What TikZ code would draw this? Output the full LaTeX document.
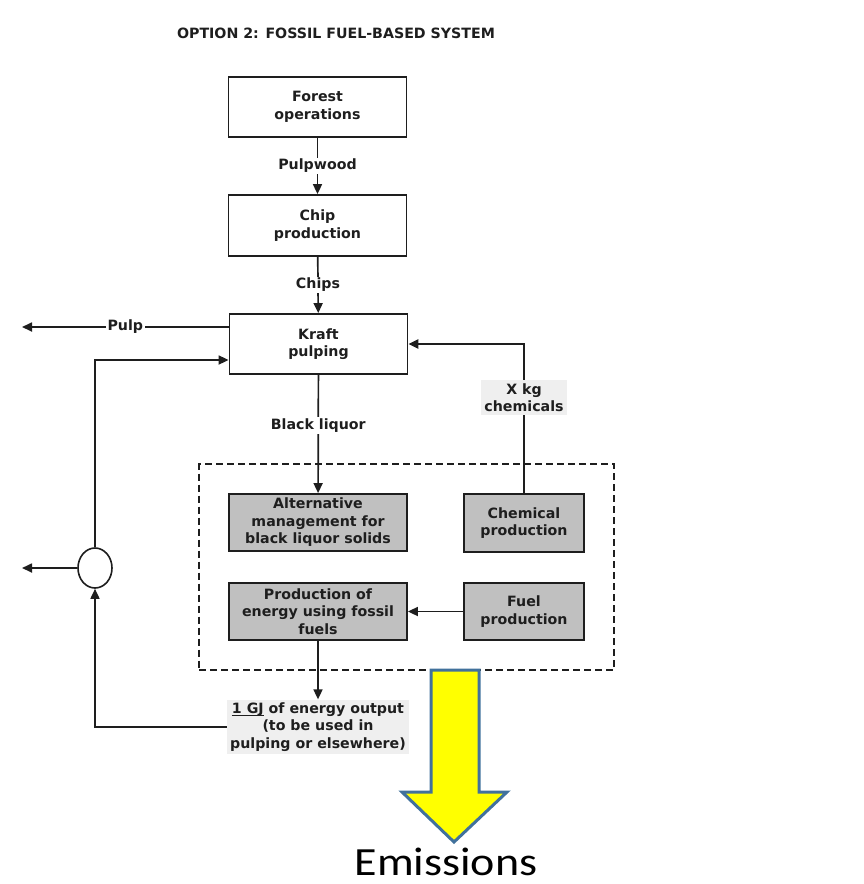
\documentclass[tikz,border=0pt]{standalone}
\usepackage{fontspec}
\setmainfont{DejaVu Sans}
\newfontfamily\emisfont{Carlito}
\usepackage{tikz}
\usetikzlibrary{shapes.geometric,arrows.meta,positioning,fit}
\usepackage{xcolor}
\definecolor{boxgray}{HTML}{C0C0C0}
\definecolor{notegray}{HTML}{EFEFEF}
\definecolor{inkgray}{HTML}{1E1E1E}
\definecolor{emisblue}{HTML}{41719C}
\definecolor{emisyellow}{HTML}{FFFF00}

\begin{document}
\begin{tikzpicture}[x=1pt,y=-1pt,
  txt/.style={font=\bfseries\fontsize{14.2}{17.5}\selectfont, align=center, text=inkgray},
  proc/.style={txt, draw=inkgray, line width=1.8pt, minimum width=178pt, minimum height=60pt, inner sep=2pt},
  altproc/.style={proc, fill=boxgray, minimum height=57pt},
  tag/.style={txt, fill=white, inner sep=1.5pt},
  note/.style={txt, fill=notegray, inner sep=3pt},
  flow/.style={draw=inkgray, line width=1.7pt, -{Triangle[length=10pt,width=9pt]}}]
  \useasboundingbox (0,0) rectangle (864,884);

  \node[txt] (title) at (336,33) {OPTION 2: FOSSIL FUEL-BASED SYSTEM};

  \node[proc] (forest) at (317.5,107) {Forest\\operations};
  \node[proc, minimum height=61pt] (chip) at (317.5,225.5) {Chip\\production};
  \node[proc] (kraft) at (318.5,344) {Kraft\\pulping};
  \node[altproc] (altmgmt) at (318,522.5) {Alternative\\management for\\black liquor solids};
  \node[altproc, minimum width=120pt, minimum height=58pt] (chem) at (524,523) {Chemical\\production};
  \node[altproc] (energy) at (318,611.5) {Production of\\energy using fossil\\fuels};
  \node[altproc, minimum width=120pt] (fuel) at (524,611.5) {Fuel\\production};
  \node[draw=inkgray, line width=1.8pt, dash pattern=on 7pt off 4pt, inner sep=29pt, fit=(altmgmt)(chem)(energy)(fuel)] (sys) {};
  \node[ellipse, draw=inkgray, line width=1.6pt, minimum width=34pt, minimum height=40pt, inner sep=0pt] (split) at (95,568) {};
  \node[note, minimum width=180pt] (gj) at (318,727) {\underline{\smash{1 GJ}} of energy output\\(to be used in\\pulping or elsewhere)};
  \coordinate (pulpend) at (22,327);
  \coordinate (splitend) at (22,568);

  \draw[flow] (forest) -- node[tag] (pw) {Pulpwood} (chip);
  \draw[flow] (chip) -- node[tag] (chp) {Chips} (kraft);
  \draw[flow] (kraft) -- node[tag, pos=0.43] (bl) {Black liquor} (altmgmt);
  \draw[flow] ([yshift=17pt]kraft.west) -- node[tag] (pl) {Pulp} (pulpend);
  \draw[flow, line width=2.4pt] (chem.north) |- node[note, pos=0.32] (xkg) {X kg\\chemicals} (kraft.east);
  \draw[flow] (fuel) -- (energy);
  \draw[flow] (energy) -- (gj);
  \draw[flow] (gj.west) -| (split.south);
  \draw[flow] (split.north) |- ([yshift=-16pt]kraft.west);
  \draw[flow] (split.west) -- (splitend);

  \draw[draw=emisblue, fill=emisyellow, line width=3pt, line join=miter] (431,670) -- (479,670) -- (479,792) -- (507,792) -- (454,842) -- (402,792) -- (431,792) -- cycle;
  \node[font=\emisfont\fontsize{40}{40}\selectfont, xscale=1.15, anchor=base, inner sep=0pt] (emis) at (446,875) {Emissions};
\end{tikzpicture}
\end{document}
